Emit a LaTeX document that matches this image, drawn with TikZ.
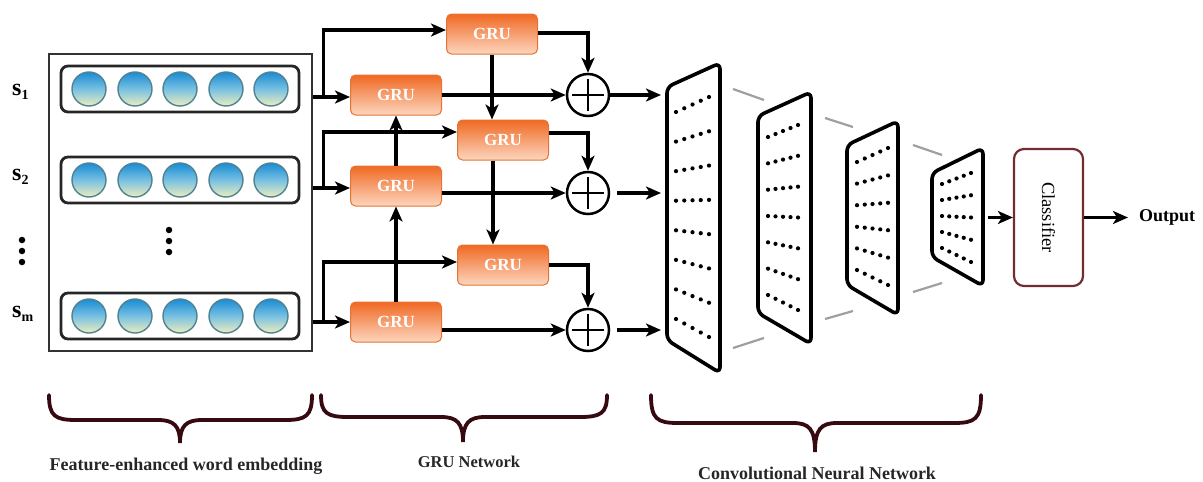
\documentclass[tikz,border=0pt]{standalone}
\usepackage{fontspec}
\setmainfont{Liberation Serif}
\usetikzlibrary{arrows.meta,calc}
\definecolor{gruTop}{RGB}{240,105,35}
\definecolor{gruBot}{RGB}{252,214,190}
\definecolor{gruLine}{RGB}{228,115,55}
\definecolor{embTop}{RGB}{25,140,212}
\definecolor{embMid}{RGB}{120,192,226}
\definecolor{embBot}{RGB}{238,238,188}
\definecolor{embLine}{RGB}{80,130,145}
\definecolor{braceCol}{RGB}{55,10,18}
\definecolor{clsLine}{RGB}{115,45,50}
\newcommand\cnndots[7]{%
  \foreach \i in {1,...,#1}{%
    \foreach \j in {0,...,4}{%
      \pgfmathsetmacro\yla{#4+(\i-1)*(#5-#4)/(#1-1)}%
      \pgfmathsetmacro\yra{#6+(\i-1)*(#7-#6)/(#1-1)}%
      \fill[black] ({#2+\j*(#3-#2)/4},{\yla+\j*(\yra-\yla)/4}) circle (2.1pt);
    }%
  }%
}
\newcommand\mybrace[6]{% L R T Y0 Yh Yt
  \draw[bracestyle] (#1,#4) .. controls (#1,#5-4) and (#1+6,#5) .. (#1+27,#5)
    -- (#3-22,#5) .. controls (#3-6,#5) and (#3,#5+6) .. (#3,#6)
    .. controls (#3,#5+6) and (#3+6,#5) .. (#3+22,#5)
    -- (#2-27,#5) .. controls (#2-6,#5) and (#2,#5-4) .. (#2,#4);
}
\begin{document}
\begin{tikzpicture}[x=1pt,y=-1pt,
  arr/.style={line width=3.2pt,-{Stealth[length=15pt,width=13pt,inset=4pt]}},
  gru/.style={rounded corners=5pt, minimum width=91pt, minimum height=40pt, inner sep=0,
    top color=gruTop, bottom color=gruBot, draw=gruLine, line width=1pt,
    text=white, font=\bfseries\fontsize{17}{17}\selectfont},
  emb/.style={circle, minimum size=34pt, inner sep=0, top color=embTop, bottom color=embBot,
    middle color=embMid, draw=embLine, line width=1.4pt},
  rowbox/.style={draw=black!85, line width=2.8pt, rounded corners=7pt, minimum width=238pt,
    minimum height=46pt, inner sep=0},
  plusnode/.style={circle, draw, line width=2.5pt, minimum size=42pt, inner sep=0,
    path picture={
      \draw[line width=2.5pt] ([xshift=-16pt]path picture bounding box.center) -- ([xshift=16pt]path picture bounding box.center);
      \draw[line width=2.5pt] ([yshift=-16pt]path picture bounding box.center) -- ([yshift=16pt]path picture bounding box.center);}},
  layer/.style={line width=3.6pt, rounded corners=6pt, line join=round},
  seg/.style={gray!75, line width=2.2pt},
  bracestyle/.style={braceCol, line width=3.8pt, line cap=round},
  lbl/.style={font=\bfseries\fontsize{18}{20}\selectfont, inner sep=0, text=black!85},
  slabel/.style={anchor=base west, inner sep=0, font=\bfseries\fontsize{24}{24}\selectfont},
]
\useasboundingbox (0,0) rectangle (1203,482);

% ---------- embedding block ----------
\node[draw=black!80, line width=2.4pt, minimum width=263pt, minimum height=297pt, inner sep=0] (embed) at (180.5,202.5) {};
\node[rowbox] (r1) at (180,89) {};
\node[rowbox] (r2) at (180,180) {};
\node[rowbox] (rm) at (180,316) {};
\foreach \r/\y in {1/89,2/180,m/316}{
  \foreach \k/\x in {1/89,2/135,3/180,4/226,5/271}{
    \node[emb] (e\r\k) at (\x,\y) {};
  }
}
\node[slabel] (s1) at (12,95) {s\raisebox{-4pt}{\fontsize{14}{14}\selectfont 1}};
\node[slabel] (s2) at (12,180) {s\raisebox{-4pt}{\fontsize{14}{14}\selectfont 2}};
\node[slabel] (sm) at (12,317) {s\raisebox{-4pt}{\fontsize{14}{14}\selectfont m}};
\foreach \y [count=\n] in {240,251,262}{
  \node[circle, fill=black, inner sep=0, minimum size=6.5pt] (ld\n) at (22,\y) {};
}
\foreach \y [count=\n] in {230,241,252}{
  \node[circle, fill=black, inner sep=0, minimum size=6.5pt] (md\n) at (169,\y) {};
}

% ---------- GRU network ----------
\node[gru] (t1) at (492,34) {GRU};
\node[gru] (f1) at (396,95) {GRU};
\node[gru] (b2) at (503,140) {GRU};
\node[gru] (f2) at (396,186) {GRU};
\node[gru] (b3) at (503,265) {GRU};
\node[gru] (fm) at (396,322) {GRU};
\node[plusnode] (p1) at (588,95) {};
\node[plusnode] (p2) at (588,193) {};
\node[plusnode] (p3) at (588,330) {};

\path (embed.east |- 0,97) coordinate (o1) ++(10,0) coordinate (j1);
\path (embed.east |- 0,188) coordinate (o2) ++(10,0) coordinate (j2);
\path (embed.east |- 0,322) coordinate (om) ++(10,0) coordinate (jm);
\draw[arr] (o1) -- (o1 -| f1.west);
\draw[arr] (o2) -- (o2 -| f2.west);
\draw[arr] (om) -- (om -| fm.west);
\draw[arr] (j1) |- ([yshift=4pt]t1.west);
\draw[arr] (j2) |- ([yshift=8pt]b2.west);
\draw[arr] (jm) |- ([yshift=3pt]b3.west);

\draw[arr] (fm.north) -- (f2.south);
\draw[arr] (f2.north) -- (f1.south);
\draw[arr] (t1.south) -- (t1.south |- b2.north);
\draw[arr] ([xshift=-10pt]b2.south) -- ([xshift=-10pt]b2.south |- b3.north);

\draw[arr] ([yshift=1pt]t1.east) -| (p1.north);
\draw[arr] ([yshift=7pt]b2.east) -| (p2.north);
\draw[arr] (b3.east) -| (p3.north);

\draw[arr] (f1.east |- p1) -- (p1.west);
\draw[arr] (f2.east |- p2) -- (p2.west);
\draw[arr] (fm.east |- p3) -- (p3.west);

% ---------- CNN ----------
\coordinate (L1w) at (661,0);
\draw[arr] (p1.east) -- (p1 -| L1w);
\draw[arr, shorten <=7pt] (p2.east) -- (p2 -| L1w);
\draw[arr, shorten <=7pt] (p3.east) -- (p3 -| L1w);

\draw[layer] (667,87) -- (720,63) -- (720,373) -- (667,340) -- cycle;
\draw[layer] (758,116) -- (811,92) -- (811,344) -- (758,313) -- cycle;
\draw[layer] (847,145) -- (898,121) -- (898,315) -- (847,285) -- cycle;
\draw[layer] (932,173) -- (983,148) -- (983,286) -- (932,257) -- cycle;
\cnndots{8}{676}{709}{112}{319}{97}{337}
\cnndots{7}{768}{798}{137}{295}{125}{310}
\cnndots{6}{857}{888}{162}{270}{148}{285}
\cnndots{5}{942}{971}{184}{248}{173}{262}

\draw[seg] (733,89) -- (764,100);
\draw[seg] (733,348) -- (764,338);
\draw[seg] (825,118) -- (853,127);
\draw[seg] (825,319) -- (853,311);
\draw[seg] (913,145) -- (942,155);
\draw[seg] (913,292) -- (942,283);

\node[draw=clsLine, line width=2.2pt, rounded corners=10pt, minimum width=69pt, minimum height=137pt, inner sep=0] (cls) at (1048.5,217.5)
  {\rotatebox{-90}{\fontsize{18.5}{18.5}\selectfont Classifier}};
\coordinate (L4e) at (988,217.5);
\draw[arr] (L4e) -- (cls.west);
\node[lbl, anchor=west, text=black] (out) at (1139,217) {Output};
\draw[arr, shorten >=11pt] (cls.east) -- (cls.east -| out.west);

% ---------- braces and labels ----------
\mybrace{49}{312}{180}{395}{420}{443}
\mybrace{321}{607}{463}{395}{417}{442}
\mybrace{651}{981}{815}{395}{423}{452}
\node[lbl] (lab1) at (186,466) {Feature-enhanced word embedding};
\node[lbl, font=\bfseries\fontsize{16.5}{18}\selectfont] (lab2) at (469,462) {GRU Network};
\node[lbl] (lab3) at (817,473) {Convolutional Neural Network};
\end{tikzpicture}
\end{document}
